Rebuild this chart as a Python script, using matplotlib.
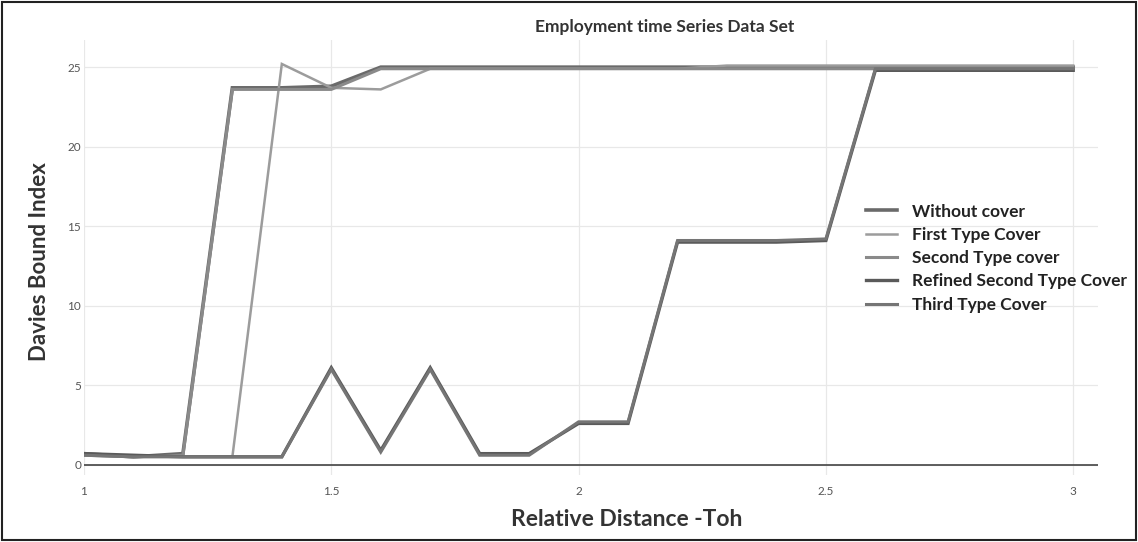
import matplotlib
matplotlib.use("Agg")
import matplotlib.pyplot as plt
from matplotlib.patches import Rectangle

plt.rcParams["font.family"] = ["Lato", "DejaVu Sans"]

# relative distance (Toh) grid
distance = [1.0, 1.1, 1.2, 1.3, 1.4, 1.5, 1.6, 1.7, 1.8, 1.9, 2.0,
            2.1, 2.2, 2.3, 2.4, 2.5, 2.6, 2.7, 2.8, 2.9, 3.0]

without_cover = [0.7, 0.5, 0.7, 23.7, 23.7, 23.8, 25.0, 25.0, 25.0, 25.0, 25.0,
                 25.0, 25.0, 25.0, 25.0, 25.0, 25.0, 25.0, 25.0, 25.0, 25.0]
first_type = [0.6, 0.5, 0.5, 0.5, 25.2, 23.7, 23.6, 24.9, 24.9, 24.9, 24.9,
              24.9, 24.9, 25.1, 25.1, 25.1, 25.1, 25.1, 25.1, 25.1, 25.1]
second_type = [0.6, 0.5, 0.6, 23.6, 23.6, 23.6, 24.9, 24.9, 24.9, 24.9, 24.9,
               24.9, 24.9, 24.9, 24.9, 24.9, 24.9, 24.9, 24.9, 24.9, 24.9]
refined_second = [0.7, 0.6, 0.5, 0.5, 0.5, 6.1, 0.9, 6.1, 0.7, 0.7, 2.6,
                  2.6, 14.0, 14.0, 14.0, 14.1, 24.8, 24.8, 24.8, 24.8, 24.8]
third_type = [0.6, 0.5, 0.5, 0.5, 0.5, 6.0, 0.8, 6.0, 0.6, 0.6, 2.7,
              2.7, 14.1, 14.1, 14.1, 14.2, 24.9, 24.9, 24.9, 24.9, 24.9]

series = [
    ("Without cover", without_cover, "#6a6a6a", 2.6),
    ("First Type Cover", first_type, "#9c9c9c", 1.8),
    ("Second Type cover", second_type, "#8a8a8a", 2.2),
    ("Refined Second Type Cover", refined_second, "#5a5a5a", 2.4),
    ("Third Type Cover", third_type, "#757575", 2.2),
]

x_ticks = [1, 1.5, 2, 2.5, 3]
x_tick_labels = ["1", "1.5", "2", "2.5", "3"]
y_ticks = [0, 5, 10, 15, 20, 25]

fig = plt.figure(figsize=(11.38, 5.42), dpi=100)
ax = fig.add_axes([0.0738, 0.124, 0.891, 0.802])

for label, ys, color, lw in series:
    ax.plot(distance, ys, color=color, linewidth=lw, label=label,
            solid_joinstyle="miter")

ax.set_xlim(1.0, 3.05)
ax.set_ylim(-0.63, 26.7)
ax.set_xticks(x_ticks)
ax.set_xticklabels(x_tick_labels)
ax.set_yticks(y_ticks)
ax.tick_params(length=0, labelsize=8.5, labelcolor="#555555")
ax.tick_params(axis="x", pad=8)
ax.tick_params(axis="y", pad=2)
ax.grid(True, color="#e8e8e8", linewidth=0.9)
ax.set_axisbelow(True)
for side in ax.spines.values():
    side.set_visible(False)
ax.axhline(0, color="#444444", linewidth=1.2, zorder=1)

ax.set_xlabel("Relative Distance -Toh", fontsize=16.5, fontweight="bold",
              color="#333333")
ax.xaxis.set_label_coords(0.535, -0.078)
ax.set_ylabel("Davies Bound Index", fontsize=16, fontweight="bold",
              color="#333333")
ax.yaxis.set_label_coords(-0.034, 0.49)
fig.text(665 / 1138, 1 - 27 / 542, "Employment time Series Data Set",
         fontsize=12.5, fontweight="bold", color="#333333",
         ha="center", va="center")

leg = ax.legend(loc="upper left", bbox_to_anchor=(0.764, 0.64), frameon=False,
                prop={"weight": "bold", "size": 12.5}, handlelength=1.8,
                handletextpad=0.9, labelspacing=0.42, borderaxespad=0)
for txt in leg.get_texts():
    txt.set_color("#222222")

fig.patches.append(Rectangle((0.002, 0.003), 0.996, 0.994, transform=fig.transFigure,
                             fill=False, edgecolor="#222222", linewidth=1.5))

fig.savefig("out.png", dpi=100)
